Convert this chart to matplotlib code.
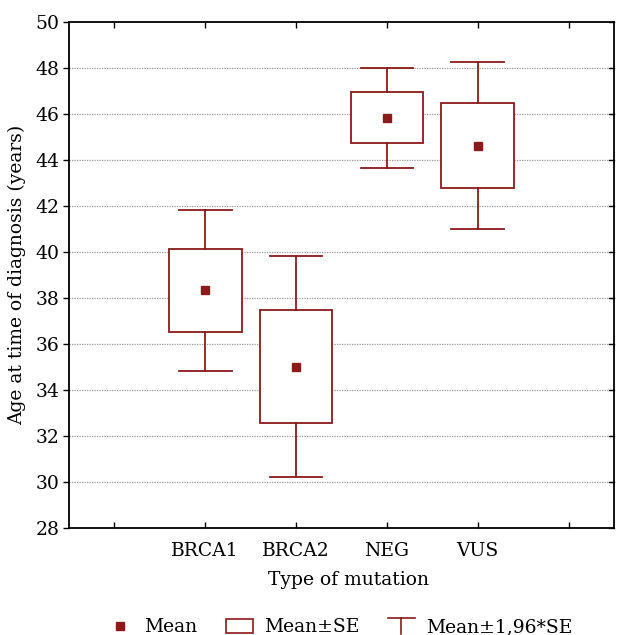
import numpy as np
import matplotlib as mlp
mlp.use('Agg')
import matplotlib.pyplot as plt
import matplotlib.patches as patch
from matplotlib.lines import Line2D
from matplotlib.legend_handler import HandlerBase

# ---- data ----
groups = ['BRCA1', 'BRCA2', 'NEG', 'VUS']
means = [38.33, 35.02, 45.83, 44.63]
se = [1.79, 2.45, 1.105, 1.86]
z = 1.96

col = '#8b1a1a'
plt.rcParams['font.family'] = ['DejaVu Serif']
plt.rcParams['font.size'] = 13.5


class WhiskerHandler(HandlerBase):
    # legend symbol: a cap with a stem under it
    def create_artists(self, legend, orig, xd, yd, w, h, fontsize, trans):
        top = yd + h
        bot = yd - h * 0.15
        cap = Line2D([xd, xd + w], [top, top], color=col, lw=1.2, transform=trans)
        stem = Line2D([xd + w / 2, xd + w / 2], [top, bot], color=col, lw=1.2, transform=trans)
        return [cap, stem]


fig = plt.figure(figsize=(6.17, 6.35), dpi=100)
ax = fig.add_axes([69 / 617, 1 - 528 / 635, 545 / 617, 506 / 635])

pos = np.arange(1, len(groups) + 1)
box_w = 0.8
cap_w = 0.58
for x, m, s in zip(pos, means, se):
    lo, hi = m - s, m + s
    wlo, whi = m - z * s, m + z * s
    ax.add_patch(patch.Rectangle((x - box_w / 2, lo), box_w, hi - lo,
                                 facecolor='white', edgecolor=col, lw=1.3, zorder=3))
    ax.plot([x, x], [hi, whi], color=col, lw=1.3, zorder=3)
    ax.plot([x, x], [wlo, lo], color=col, lw=1.3, zorder=3)
    ax.plot([x - cap_w / 2, x + cap_w / 2], [whi, whi], color=col, lw=1.3, zorder=3)
    ax.plot([x - cap_w / 2, x + cap_w / 2], [wlo, wlo], color=col, lw=1.3, zorder=3)
    ax.plot(x, m, 's', color=col, markersize=5.8, zorder=4)

ax.set_xlim(-0.5, 5.5)
ax.set_ylim(28, 50)
ax.set_xticks(range(6))
ax.set_xticklabels([''] + groups + [''])
ax.set_yticks(range(28, 51, 2))
for v in range(30, 50, 2):
    ax.axhline(v, color='#9a9a9a', lw=0.9, ls=(0, (1, 1)), zorder=1)

ax.tick_params(axis='x', direction='in', top=True, length=4, width=1, pad=10)
ax.tick_params(axis='y', direction='out', length=4, width=1, pad=3)
for yv in range(28, 51, 2):
    ax.plot([5.5 - 0.05, 5.5], [yv, yv], color='black', lw=1, clip_on=False, zorder=5)
for sp in ax.spines.values():
    sp.set_linewidth(1.3)

ax.set_xlabel('Type of mutation')
ax.xaxis.set_label_coords((348 - 69) / 545, -0.085)
ax.set_ylabel('Age at time of diagnosis (years)')
ax.yaxis.set_label_coords(-0.078, 0.5)

h_mean = Line2D([], [], marker='s', color=col, ls='none', markersize=5.8)
h_box = patch.Rectangle((0, 0), 1, 1, facecolor='white', edgecolor=col, lw=1.2)
h_wh = object()
fig.legend([h_mean, h_box, h_wh], ['Mean', 'Mean±SE', 'Mean±1,96*SE'],
           handler_map={h_wh: WhiskerHandler()},
           loc='center', bbox_to_anchor=(0.55, 0.012), ncol=3, frameon=False,
           handlelength=1.45, handleheight=0.75, handletextpad=0.6,
           columnspacing=1.5, fontsize=13.5)

fig.savefig('out.png', dpi=100)
